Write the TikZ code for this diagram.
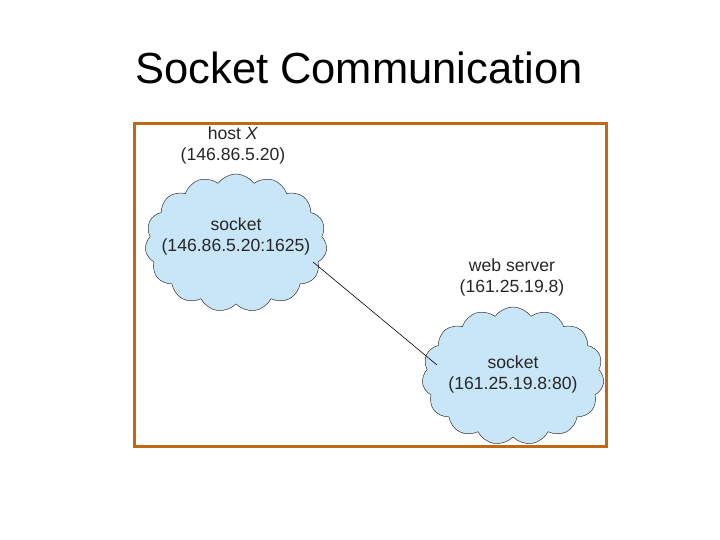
\documentclass[tikz,border=0pt]{standalone}
\usepackage{fontspec}
\setmainfont{Liberation Sans}
\usetikzlibrary{shapes.symbols}
\definecolor{frame}{RGB}{192,104,20}
\definecolor{cloudblue}{RGB}{200,230,248}
\begin{document}
\begin{tikzpicture}[x=1pt,y=-1pt,
  cl/.style={cloud, cloud puffs=15, cloud puff arc=110, aspect=1.35, draw=black!80, line width=0.5pt, fill=cloudblue, inner sep=0pt},
  lbl/.style={font=\fontsize{17.6}{21}\selectfont, align=center, text=black!85}]
\useasboundingbox (0,0) rectangle (720,540);
\node[font=\fontsize{43.5}{52}\selectfont] (title) at (359,68) {Socket Communication};
\draw[frame, line width=3pt] (134,124) rectangle (606,446);
\node[cl, minimum width=182pt, minimum height=138pt] (c1) at (236,243) {};
\node[cl, minimum width=182pt, minimum height=138pt] (c2) at (513,376) {};
\node[lbl] (t1) at (236,236) {socket\\(146.86.5.20:1625)};
\node[lbl] (t2) at (513,374) {socket\\(161.25.19.8:80)};
\node[lbl] (h1) at (233,145) {host \textit{X}\\(146.86.5.20)};
\node[lbl] (h2) at (512,277) {web server\\(161.25.19.8)};
\coordinate (a) at (313,262);
\coordinate (b) at (437,365);
\draw[line width=0.6pt] (a) -- (b);
\end{tikzpicture}
\end{document}
